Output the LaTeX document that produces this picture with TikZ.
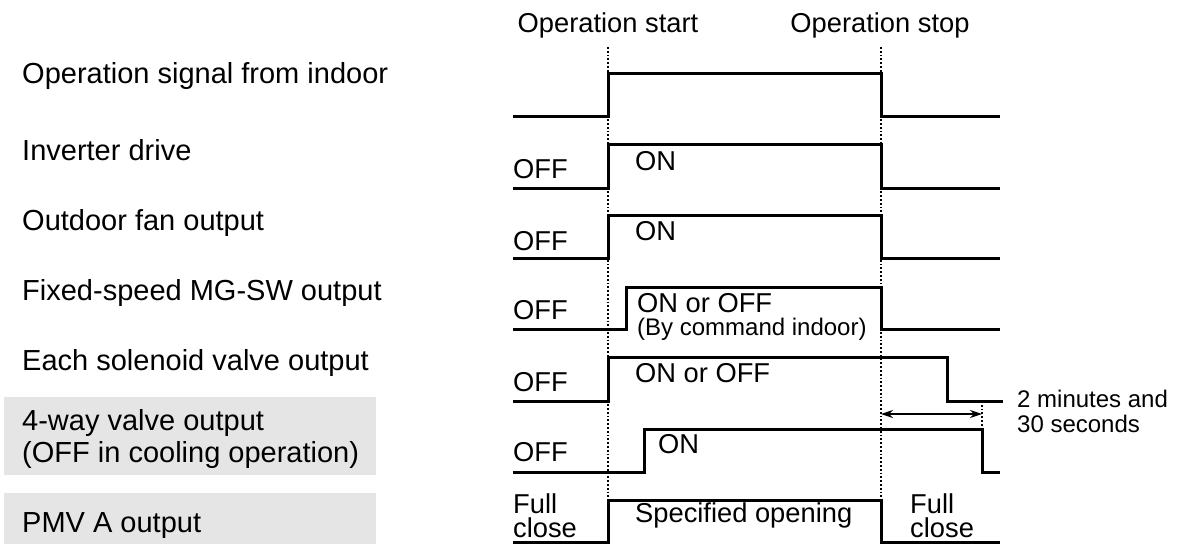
\documentclass[tikz,border=0pt]{standalone}
\usepackage{fontspec}
\setmainfont{Liberation Sans}
\usetikzlibrary{arrows.meta}
\begin{document}
\begin{tikzpicture}[x=1pt,y=-1pt,
  wave/.style={line width=3pt,line join=miter},
  guide/.style={line width=1.8pt,dotted},
  lbl/.style={anchor=base west,inner sep=0pt,font=\fontsize{29}{34}\selectfont},
  txt/.style={anchor=base west,inner sep=0pt,font=\fontsize{27.3}{32}\selectfont},
  twoline/.style={anchor=south west,inner sep=0pt,align=left,font=\fontsize{27.3}{24}\selectfont},
  small/.style={anchor=base west,inner sep=0pt,font=\fontsize{24}{28}\selectfont},
  graybox/.style={fill=black!10,draw=none},
  dim/.style={line width=1.2pt,{Stealth[length=12pt,width=8pt]}-{Stealth[length=12pt,width=8pt]}}]
\useasboundingbox (0,0) rectangle (1183,544);
% grey boxes
\fill[graybox] (4,397) rectangle (376,475);
\fill[graybox] (4,493) rectangle (376,544);
% headers
\node[txt,anchor=base] (hstart) at (608,32) {Operation start};
\node[txt,anchor=base] (hstop) at (880,32) {Operation stop};
% guides
\coordinate (gs1) at (608,47); \coordinate (gs2) at (608,500);
\coordinate (gt1) at (881,47); \coordinate (gt2) at (881,500);
\draw[guide] (gs1) -- (gs2);
\draw[guide] (gt1) -- (gt2);
% left labels
\node[lbl] (l1) at (22,83) {Operation signal from indoor};
\node[lbl] (l2) at (22,160) {Inverter drive};
\node[lbl] (l3) at (22,230) {Outdoor fan output};
\node[lbl] (l4) at (22,300) {Fixed-speed MG-SW output};
\node[lbl] (l5) at (22,370) {Each solenoid valve output};
\node[lbl] (l6a) at (22,430) {4-way valve output};
\node[lbl] (l6b) at (22,462) {(OFF in cooling operation)};
\node[lbl] (l7) at (22,532) {PMV A output};
% waveforms
\draw[wave] (513,116) -- (608,116) -- (608,73) -- (881,73) -- (881,116) -- (1000,116);
\draw[wave] (513,188) -- (608,188) -- (608,144) -- (881,144) -- (881,188) -- (1000,188);
\draw[wave] (513,258) -- (608,258) -- (608,215) -- (881,215) -- (881,258) -- (1000,258);
\draw[wave] (513,329) -- (626,329) -- (626,287) -- (881,287) -- (881,329) -- (1000,329);
\draw[wave] (513,401) -- (608,401) -- (608,357) -- (947,357) -- (947,401) -- (1003,401);
\draw[wave] (513,472) -- (644,472) -- (644,429) -- (982,429) -- (982,472) -- (1000,472);
\draw[wave] (513,542) -- (608,542) -- (608,500) -- (881,500) -- (881,542) -- (1000,542);
% state texts
\node[txt] (off2) at (513,178) {OFF};
\node[txt] (on2) at (635,170) {ON};
\node[txt] (off3) at (513,250) {OFF};
\node[txt] (on3) at (635,240) {ON};
\node[txt] (off4) at (513,319) {OFF};
\node[txt] (on4) at (637,312) {ON or OFF};
\node[small] (cmd4) at (637,335) {(By command indoor)};
\node[txt] (off5) at (513,391) {OFF};
\node[txt] (on5) at (635,382) {ON or OFF};
\node[txt] (off6) at (513,461) {OFF};
\node[txt] (on6) at (658,453) {ON};
\node[twoline] (fc1) at (513,538) {Full\\close};
\node[txt] (spec) at (635,522) {Specified opening};
\node[twoline] (fc2) at (910,538) {Full\\close};
% delay
\coordinate (d1) at (982,401); \coordinate (d2) at (982,429);
\draw[guide] (d1) -- (d2);
\coordinate (a1) at (881,414); \coordinate (a2) at (982,414);
\draw[dim] (a1) -- (a2);
\node[small] (t1) at (1017,407) {2 minutes and};
\node[small] (t2) at (1017,432) {30 seconds};
\end{tikzpicture}
\end{document}
